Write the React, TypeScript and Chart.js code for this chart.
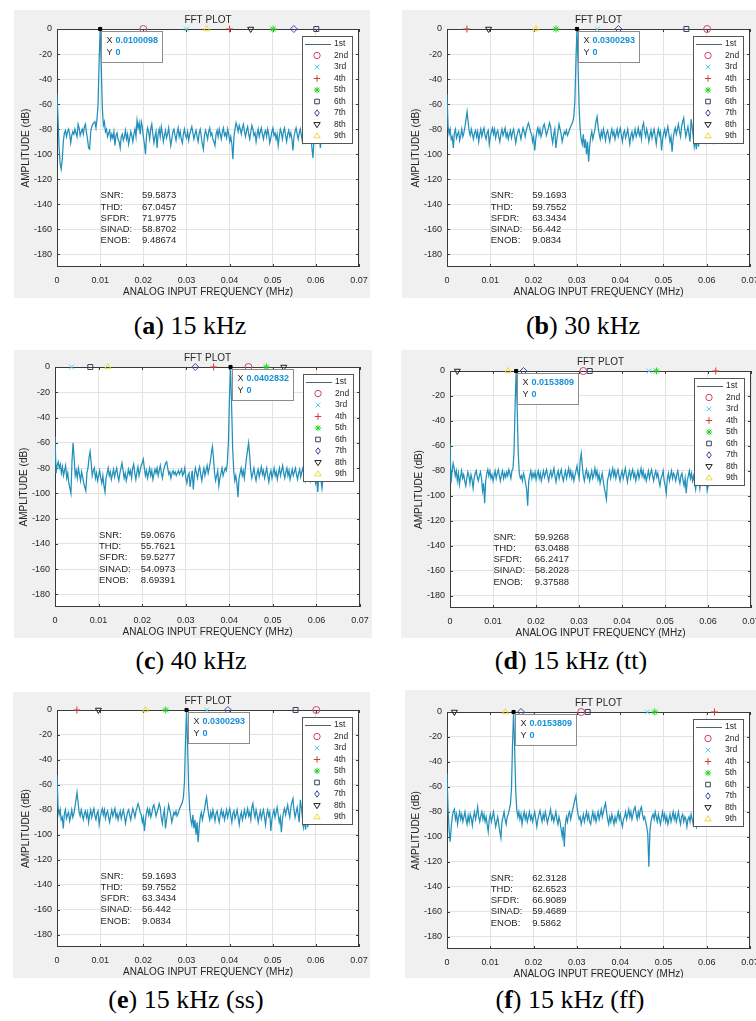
import React, { useEffect, useRef } from "react";
import { Chart, registerables } from "chart.js";

Chart.register(...registerables);

// ---------- data ----------
const BIN_MHZ = 0.000244140625; // FFT bin width (MHz)
const X_TICKS = [0, 0.01, 0.02, 0.03, 0.04, 0.05, 0.06, 0.07];
const Y_TICKS = [0, -20, -40, -60, -80, -100, -120, -140, -160, -180];
const SERIES_LABELS = ["1st", "2nd", "3rd", "4th", "5th", "6th", "7th", "8th", "9th"];
const STAT_LABELS = ["SNR:", "THD:", "SFDR:", "SINAD:", "ENOB:"];
const CAPTION_LETTERS = ["a", "b", "c", "d", "e", "f"];
const CAPTION_TEXTS = ["15 kHz", "30 kHz", "40 kHz", "15 kHz (tt)", "15 kHz (ss)", "15 kHz (ff)"];

const spectrumA = [
  -52, -72, -95, -108, -112, -104, -90, -83, -81, -86, -82, -80, -84, -91, -85, -82,
  -84, -80, -83, -86, -76, -79, -85, -82, -80, -84, -78, -76, -83, -88, -95, -96,
  -82, -78, -76, -75, -74, -79, -72, -60, -25, 0, -28, -62, -77, -74, -82, -80,
  -86, -83, -81, -88, -84, -87, -82, -93, -85, -83, -88, -90, -95, -86, -84, -89,
  -86, -81, -88, -84, -92, -87, -82, -85, -90, -84, -80, -86, -73, -79, -75, -84,
  -74, -78, -86, -92, -100, -85, -79, -82, -88, -80, -76, -84, -91, -86, -82, -95,
  -84, -80, -86, -78, -83, -90, -85, -81, -87, -84, -79, -86, -93, -88, -82, -80,
  -85, -89, -83, -79, -86, -82, -88, -91, -84, -80, -85, -87, -82, -89, -84, -81,
  -78, -83, -88, -84, -81, -86, -90, -83, -80, -86, -92, -96, -85, -81, -84, -88,
  -82, -79, -85, -83, -88, -90, -93, -84, -81, -86, -80, -84, -88, -82, -79, -85,
  -83, -87, -80, -84, -90, -86, -92, -104, -86, -80, -75, -78, -82, -77, -80, -84,
  -79, -76, -82, -86, -81, -78, -84, -88, -82, -77, -80, -85, -83, -90, -84, -80,
  -86, -82, -79, -84, -88, -83, -81, -86, -80, -84, -91, -87, -82, -79, -85, -83,
  -88, -84, -93, -86, -80, -83, -88, -82, -79, -85, -90, -84, -81, -86, -83, -88,
  -97, -86, -82, -79, -84, -88, -83, -80, -85, -90, -84, -81, -87, -83, -80, -88,
  -86, -82, -95, -103, -88, -84, -80, -86, -89, -84, -95, -88, -84, -82, -86, -90,
];

const spectrumB = [
  -52, -78, -84, -80, -88, -86, -95, -83, -80, -87, -84, -82, -89, -85, -80, -86,
  -83, -78, -72, -66, -74, -82, -85, -80, -84, -88, -83, -81, -86, -82, -90, -84,
  -80, -86, -82, -79, -85, -88, -83, -81, -92, -86, -82, -79, -84, -80, -87, -83,
  -81, -86, -90, -84, -80, -85, -82, -79, -86, -83, -88, -84, -81, -87, -83, -80,
  -85, -91, -86, -82, -80, -84, -88, -83, -79, -82, -86, -81, -78, -75, -78, -82,
  -84, -90, -86, -97, -88, -82, -79, -84, -80, -86, -83, -78, -76, -80, -85, -82,
  -79, -75, -78, -86, -91, -84, -80, -95, -88, -82, -76, -80, -84, -90, -86, -82,
  -84, -81, -85, -83, -80, -78, -76, -74, -70, -58, -25, 0, -28, -62, -80, -88,
  -92, -84, -95, -88, -100, -90, -106, -94, -86, -82, -88, -84, -80, -74, -70, -78,
  -84, -88, -82, -86, -80, -84, -89, -83, -81, -86, -90, -84, -80, -85, -82, -88,
  -84, -80, -86, -82, -79, -85, -90, -83, -81, -87, -84, -80, -86, -92, -85, -82,
  -88, -84, -80, -86, -83, -79, -85, -82, -88, -78, -75, -82, -86, -80, -84, -90,
  -85, -81, -87, -83, -80, -86, -92, -84, -80, -85, -82, -97, -88, -83, -80, -86,
  -82, -78, -84, -90, -86, -98, -88, -82, -79, -84, -80, -76, -82, -86, -78, -74,
  -71, -80, -86, -82, -78, -84, -90, -72, -78, -86, -94, -88, -96, -84, -94, -86,
  -82, -88, -84, -80, -86, -90, -84, -82, -88, -85, -81, -86, -90, -84, -82, -88,
];

const spectrumC = [
  -55, -84, -78, -75, -80, -77, -84, -79, -86, -82, -78, -88, -84, -92, -96, -100,
  -74, -60, -72, -86, -82, -88, -80, -85, -90, -83, -87, -92, -95, -98, -84, -80,
  -72, -67, -76, -86, -82, -80, -88, -84, -90, -86, -82, -88, -92, -86, -94, -99,
  -88, -84, -80, -86, -83, -89, -85, -81, -87, -83, -80, -86, -90, -84, -80, -76,
  -82, -88, -84, -90, -86, -81, -85, -82, -88, -80, -77, -84, -89, -83, -79, -86,
  -82, -78, -76, -73, -80, -86, -82, -88, -84, -80, -86, -82, -89, -85, -81, -84,
  -80, -86, -82, -78, -84, -88, -82, -79, -76, -75, -80, -85, -83, -88, -84, -82,
  -85, -83, -86, -84, -82, -85, -83, -81, -86, -84, -80, -88, -92, -86, -84, -95,
  -88, -82, -97, -86, -80, -84, -88, -82, -79, -85, -90, -84, -80, -86, -82, -78,
  -84, -80, -75, -68, -63, -72, -84, -90, -86, -82, -94, -88, -84, -80, -86, -83,
  -80, -82, -76, -60, -24, 0, -30, -64, -82, -90, -86, -92, -103, -88, -84, -80,
  -86, -82, -88, -80, -72, -66, -60, -70, -82, -88, -84, -80, -86, -90, -84, -81,
  -87, -83, -79, -85, -82, -88, -84, -80, -86, -91, -85, -82, -88, -84, -80, -86,
  -83, -89, -84, -80, -86, -82, -78, -84, -88, -83, -80, -86, -82, -89, -85, -81,
  -86, -83, -80, -85, -89, -84, -81, -87, -83, -80, -86, -90, -84, -88, -82, -86,
  -90, -84, -88, -82, -86, -92, -88, -99, -86, -82, -90, -96, -88, -84, -86, -90,
];

const spectrumD = [
  -58, -90, -80, -74, -78, -84, -80, -88, -82, -91, -85, -80, -86, -83, -88, -92,
  -86, -81, -84, -90, -83, -87, -94, -86, -82, -80, -85, -88, -84, -81, -86, -96,
  -90, -106, -88, -82, -79, -84, -80, -86, -83, -88, -84, -80, -86, -82, -79, -84,
  -88, -83, -80, -86, -82, -85, -81, -84, -79, -82, -86, -80, -78, -65, -28, 0,
  -30, -66, -82, -86, -84, -88, -82, -85, -90, -95, -108, -88, -84, -80, -86, -82,
  -85, -81, -87, -83, -80, -86, -82, -88, -84, -80, -85, -82, -79, -84, -88, -83,
  -80, -85, -82, -78, -84, -89, -83, -80, -86, -82, -79, -85, -88, -83, -80, -86,
  -82, -78, -84, -80, -86, -82, -88, -84, -80, -76, -82, -86, -72, -66, -76, -84,
  -88, -82, -79, -85, -82, -88, -84, -80, -86, -83, -78, -84, -80, -87, -83, -90,
  -86, -82, -88, -94, -98, -103, -88, -84, -80, -86, -82, -78, -84, -80, -86, -82,
  -79, -84, -88, -83, -80, -86, -82, -78, -84, -89, -83, -80, -86, -82, -79, -85,
  -82, -88, -84, -80, -86, -82, -78, -84, -80, -86, -83, -88, -84, -80, -86, -82,
  -79, -84, -88, -83, -80, -85, -82, -88, -92, -86, -84, -80, -88, -92, -98, -86,
  -82, -88, -84, -80, -86, -82, -84, -88, -83, -80, -86, -90, -84, -82, -88, -92,
  -86, -98, -88, -84, -80, -86, -82, -88, -84, -90, -95, -86, -82, -88, -94, -85,
  -84, -88, -82, -90, -86, -96, -92, -84, -88, -82, -86, -90, -84, -88, -86, -90,
];

const spectrumF = [
  -49, -78, -95, -104, -92, -84, -80, -78, -86, -82, -90, -84, -80, -86, -82, -88,
  -84, -80, -86, -90, -83, -88, -82, -85, -91, -84, -80, -86, -82, -76, -84, -88,
  -83, -80, -86, -82, -88, -84, -90, -96, -86, -82, -88, -84, -80, -86, -92, -88,
  -84, -90, -96, -101, -88, -84, -80, -86, -90, -84, -82, -78, -74, -62, -26, 0,
  -28, -62, -78, -84, -80, -86, -82, -90, -84, -80, -86, -82, -88, -84, -80, -86,
  -83, -88, -84, -80, -86, -92, -86, -82, -79, -84, -88, -82, -86, -80, -84, -89,
  -85, -82, -78, -86, -83, -88, -84, -80, -86, -90, -84, -88, -94, -100, -92, -108,
  -90, -84, -88, -82, -80, -86, -82, -78, -74, -70, -67, -76, -82, -86, -84, -90,
  -86, -82, -88, -84, -80, -86, -82, -88, -90, -84, -80, -86, -82, -88, -84, -80,
  -86, -82, -78, -84, -80, -76, -73, -80, -86, -90, -84, -88, -82, -86, -90, -84,
  -88, -84, -80, -86, -82, -88, -92, -86, -84, -80, -86, -82, -78, -84, -80, -86,
  -82, -78, -76, -82, -86, -80, -84, -78, -76, -82, -86, -84, -88, -92, -98, -124,
  -96, -88, -84, -82, -86, -80, -84, -88, -82, -86, -90, -84, -80, -86, -82, -88,
  -84, -90, -86, -82, -88, -84, -80, -86, -82, -88, -84, -80, -86, -90, -84, -82,
  -88, -84, -86, -92, -86, -84, -88, -82, -86, -90, -84, -88, -92, -86, -84, -90,
  -86, -88, -84, -90, -86, -82, -88, -84, -86, -90, -88, -84, -86, -90, -88, -92,
];

// harmonic marker frequencies (MHz), 2nd..9th
const harmonicsA = [0.0200, 0.0300, 0.0400, 0.0501, 0.0601, 0.0549, 0.0449, 0.0347];
const harmonicsB = [0.0601, 0.0347, 0.0046, 0.0252, 0.0553, 0.0396, 0.0096, 0.0205];
const harmonicsC = [0.0444, 0.0038, 0.0364, 0.0485, 0.0081, 0.0322, 0.0525, 0.0121];
const harmonicsD = [0.0310, 0.0463, 0.0618, 0.0480, 0.0325, 0.0171, 0.0017, 0.0135];

// data tip X values
const tipA = "0.0100098";
const tipB = "0.0300293";
const tipC = "0.0402832";
const tipD = "0.0153809";

const statsA = ["59.5873", "67.0457", "71.9775", "58.8702", "9.48674"];
const statsB = ["59.1693", "59.7552", "63.3434", "56.442", "9.0834"];
const statsC = ["59.0676", "55.7621", "59.5277", "54.0973", "8.69391"];
const statsD = ["59.9268", "63.0488", "66.2417", "58.2028", "9.37588"];
const statsF = ["62.3128", "62.6523", "66.9089", "59.4689", "9.5862"];

// ---------- styles / layout ----------
const FONT = '"Liberation Sans", Arial, Helvetica, sans-serif';
const TXT = "#262626";
const GRID = "#e3e3e3";
const TRACE = "#2190ba";
const TIP_BLUE = "#1590d8";
const MARKERS = [
  { style: "circle", color: "#d1426f", rot: 0 },
  { style: "crossRot", color: "#55d3ea", rot: 0 },
  { style: "cross", color: "#d33a3a", rot: 0 },
  { style: "star", color: "#1fd41f", rot: 0 },
  { style: "rect", color: "#3a3f5c", rot: 0 },
  { style: "rectRot", color: "#3b48a0", rot: 0 },
  { style: "triangle", color: "#1f1f1f", rot: 180 },
  { style: "triangle", color: "#e8dc3a", rot: 0 },
];
const STAT_X = [0.0101, 0.0197];
const STAT_Y = -133;

// [left, top, right, bottom] page pixels
const LAYOUT = [
  { bg: [14, 10, 370, 298], plot: [57, 29, 359, 267], cap: [190, 326] },
  { bg: [402, 10, 756, 298], plot: [447, 29, 750, 267], cap: [583, 326] },
  { bg: [14, 350, 372, 638], plot: [55, 367, 360, 607], cap: [191, 661] },
  { bg: [401, 350, 756, 638], plot: [450, 371, 751, 608], cap: [571, 661] },
  { bg: [13, 692, 370, 978], plot: [57, 710, 359, 947], cap: [186, 1000] },
  { bg: [405, 690, 756, 978], plot: [447, 712, 750, 949], cap: [570, 1000] },
];

const PANELS = [
  { spectrum: spectrumA, harmonics: harmonicsA, tip: tipA, stats: statsA },
  { spectrum: spectrumB, harmonics: harmonicsB, tip: tipB, stats: statsB },
  { spectrum: spectrumC, harmonics: harmonicsC, tip: tipC, stats: statsC },
  { spectrum: spectrumD, harmonics: harmonicsD, tip: tipD, stats: statsD },
  { spectrum: spectrumB, harmonics: harmonicsB, tip: tipB, stats: statsB },
  { spectrum: spectrumF, harmonics: harmonicsD, tip: tipD, stats: statsF },
];

function drawMark(ctx: CanvasRenderingContext2D, style: string, x: number, y: number, r: number, rot: number, color: string) {
  ctx.save();
  ctx.strokeStyle = color;
  ctx.lineWidth = 1;
  ctx.beginPath();
  const d = r * 0.72;
  if (style === "circle") {
    ctx.arc(x, y, r, 0, Math.PI * 2);
  } else if (style === "crossRot" || style === "star") {
    ctx.moveTo(x - d, y - d); ctx.lineTo(x + d, y + d);
    ctx.moveTo(x - d, y + d); ctx.lineTo(x + d, y - d);
    if (style === "star") { ctx.moveTo(x - r, y); ctx.lineTo(x + r, y); ctx.moveTo(x, y - r); ctx.lineTo(x, y + r); }
  } else if (style === "cross") {
    ctx.moveTo(x - r, y); ctx.lineTo(x + r, y); ctx.moveTo(x, y - r); ctx.lineTo(x, y + r);
  } else if (style === "rect") {
    ctx.rect(x - d, y - d, 2 * d, 2 * d);
  } else if (style === "rectRot") {
    ctx.moveTo(x, y - r); ctx.lineTo(x + d, y); ctx.lineTo(x, y + r); ctx.lineTo(x - d, y); ctx.closePath();
  } else if (style === "triangle") {
    if (rot === 180) {
      ctx.moveTo(x - r, y - r * 0.6); ctx.lineTo(x + r, y - r * 0.6); ctx.lineTo(x, y + r); ctx.closePath();
    } else {
      ctx.moveTo(x - r, y + r * 0.6); ctx.lineTo(x + r, y + r * 0.6); ctx.lineTo(x, y - r); ctx.closePath();
    }
  }
  ctx.stroke();
  ctx.restore();
}

function FftPanel({ idx }: { idx: number }) {
  const ref = useRef<HTMLCanvasElement>(null);
  const lay = LAYOUT[idx];
  const p = PANELS[idx];
  const [bl, bt, br, bb] = lay.bg;
  const [pl, pt, pr, pb] = lay.plot;

  useEffect(() => {
    const canvas = ref.current;
    if (!canvas) return;
    const fund = Number(p.tip);

    const deco = {
      id: "fftDeco",
      beforeDraw(chart: any) {
        const { ctx, chartArea: a } = chart;
        ctx.save();
        ctx.fillStyle = "#ffffff";
        ctx.fillRect(a.left, a.top, a.right - a.left, a.bottom - a.top);
        ctx.restore();
      },
      beforeDatasetsDraw(chart: any) {
        const { ctx, chartArea: a, scales } = chart;
        ctx.save();
        ctx.strokeStyle = "#3a3a3a";
        ctx.lineWidth = 1;
        ctx.strokeRect(Math.round(a.left) + 0.5, Math.round(a.top) + 0.5, Math.round(a.right - a.left) - 1, Math.round(a.bottom - a.top) - 1);
        ctx.beginPath();
        X_TICKS.forEach((v) => {
          const x = Math.round(scales.x.getPixelForValue(v)) + 0.5;
          ctx.moveTo(x, a.bottom); ctx.lineTo(x, a.bottom - 3);
          ctx.moveTo(x, a.top); ctx.lineTo(x, a.top + 3);
        });
        Y_TICKS.forEach((v) => {
          const y = Math.round(scales.y.getPixelForValue(v)) + 0.5;
          ctx.moveTo(a.left, y); ctx.lineTo(a.left + 3, y);
          ctx.moveTo(a.right, y); ctx.lineTo(a.right - 3, y);
        });
        ctx.stroke();
        ctx.restore();
      },
      afterDraw(chart: any) {
        const { ctx, chartArea: a, scales } = chart;
        const sx = scales.x, sy = scales.y;
        ctx.save();
        ctx.fillStyle = TXT;
        ctx.textBaseline = "middle";
        ctx.textAlign = "center";
        ctx.font = `10px ${FONT}`;
        const cx = (a.left + a.right) / 2;
        ctx.fillText("FFT PLOT", cx, a.top - 9);
        ctx.fillText("ANALOG INPUT FREQUENCY (MHz)", cx, a.bottom + 25);
        ctx.save();
        ctx.translate(a.left - 31, (a.top + a.bottom) / 2);
        ctx.rotate(-Math.PI / 2);
        ctx.fillText("AMPLITUDE (dB)", 0, 0);
        ctx.restore();

        // statistics text
        ctx.textAlign = "left";
        ctx.font = `9.5px ${FONT}`;
        const lx = sx.getPixelForValue(STAT_X[0]);
        const vx = sx.getPixelForValue(STAT_X[1]);
        const y0 = sy.getPixelForValue(STAT_Y);
        STAT_LABELS.forEach((lab, i) => {
          ctx.fillText(lab, lx, y0 + i * 11.3);
          ctx.fillText(p.stats[i], vx, y0 + i * 11.3);
        });

        // data tip
        const px = sx.getPixelForValue(fund);
        const tl = Math.round(px) + 1.5, tt = Math.round(a.top) + 2.5, tw = 61, th = 31;
        ctx.fillStyle = "#ffffff";
        ctx.fillRect(tl, tt, tw, th);
        ctx.strokeStyle = "#8c8c8c";
        ctx.lineWidth = 1;
        ctx.strokeRect(tl, tt, tw, th);
        ctx.fillStyle = TXT;
        ctx.font = `9px ${FONT}`;
        ctx.fillText("X", tl + 5, tt + 9.5);
        ctx.fillText("Y", tl + 5, tt + 21);
        ctx.fillStyle = TIP_BLUE;
        ctx.font = `bold 9px ${FONT}`;
        ctx.fillText(p.tip, tl + 14, tt + 9.5);
        ctx.fillText("0", tl + 14, tt + 21);

        // legend
        const lw = 50, lh = 107;
        const lr = Math.round(a.right) - 7, lt = Math.round(a.top) + 7;
        const ll = lr - lw;
        ctx.fillStyle = "#ffffff";
        ctx.fillRect(ll + 0.5, lt + 0.5, lw, lh);
        ctx.strokeStyle = "#555555";
        ctx.strokeRect(ll + 0.5, lt + 0.5, lw, lh);
        ctx.font = `8.5px ${FONT}`;
        SERIES_LABELS.forEach((lab, i) => {
          const ry = lt + 8 + i * 11.5;
          if (i === 0) {
            ctx.strokeStyle = "#4a6272";
            ctx.beginPath();
            ctx.moveTo(ll + 3, ry + 0.5);
            ctx.lineTo(ll + 29, ry + 0.5);
            ctx.stroke();
          } else {
            const m = MARKERS[i - 1];
            drawMark(ctx, m.style, ll + 15, ry, 3.2, m.rot, m.color);
          }
          ctx.fillStyle = TXT;
          ctx.fillText(lab, ll + 32, ry);
        });
        ctx.restore();
      },
    };

    const harmonicSets = p.harmonics.map((h, i) => ({
      label: SERIES_LABELS[i + 1],
      data: [{ x: h, y: 0 }],
      showLine: false,
      pointStyle: MARKERS[i].style,
      pointRotation: MARKERS[i].rot,
      pointRadius: 3.5,
      pointBorderWidth: 1,
      pointBorderColor: MARKERS[i].color,
      pointBackgroundColor: "rgba(0,0,0,0)",
      borderColor: MARKERS[i].color,
      clip: false,
    }));

    const chart = new Chart(canvas, {
      type: "line",
      data: {
        datasets: [
          {
            label: "tip",
            data: [{ x: fund, y: 0 }],
            showLine: false,
            pointStyle: "rect",
            pointRadius: 2.2,
            pointBackgroundColor: "#000",
            pointBorderColor: "#000",
            clip: false,
          } as any,
          ...harmonicSets,
          {
            label: SERIES_LABELS[0],
            data: p.spectrum.map((v, i) => ({ x: i * BIN_MHZ, y: v })),
            borderColor: TRACE,
            borderWidth: 1.25,
            pointRadius: 0,
            tension: 0,
          },
        ],
      },
      options: {
        animation: false,
        responsive: false,
        devicePixelRatio: 1,
        events: [],
        layout: { padding: { left: 0, top: pt - bt, right: br - pr, bottom: 0 } },
        plugins: { legend: { display: false }, tooltip: { enabled: false }, title: { display: false } },
        scales: {
          x: {
            type: "linear",
            min: 0,
            max: 0.07,
            afterBuildTicks: (s: any) => { s.ticks = X_TICKS.map((v) => ({ value: v })); },
            afterFit: (s: any) => { s.height = bb - pb; s.paddingLeft = 0; s.paddingRight = 0; },
            grid: { color: GRID, drawTicks: false, lineWidth: 1 },
            border: { display: false },
            ticks: {
              padding: 8,
              color: TXT,
              maxRotation: 0,
              autoSkip: false,
              font: { family: FONT, size: 9 },
              callback: (v: any) => (Number(v) === 0 ? "0" : Number(v).toFixed(2)),
            },
          },
          y: {
            type: "linear",
            min: -190,
            max: 0,
            afterBuildTicks: (s: any) => { s.ticks = Y_TICKS.map((v) => ({ value: v })); },
            afterFit: (s: any) => { s.width = pl - bl; s.paddingTop = 0; s.paddingBottom = 0; },
            grid: { color: GRID, drawTicks: false, lineWidth: 1 },
            border: { display: false },
            ticks: {
              padding: 5,
              color: TXT,
              font: { family: FONT, size: 9 },
              callback: (v: any) => String(v),
            },
          },
        },
      } as any,
      plugins: [deco],
    });
    return () => chart.destroy();
  }, [idx]);

  return (
    <canvas
      ref={ref}
      width={br - bl}
      height={bb - bt}
      style={{ position: "absolute", left: bl, top: bt, width: br - bl, height: bb - bt, background: "#f0f0f0" }}
    />
  );
}

export default function App() {
  return (
    <div style={{ position: "absolute", left: 0, top: 0, width: 756, height: 1021, overflow: "hidden", background: "#ffffff" }}>
      {LAYOUT.map((_, i) => (
        <FftPanel key={i} idx={i} />
      ))}
      {LAYOUT.map((l, i) => (
        <div
          key={"cap" + i}
          style={{
            position: "absolute",
            left: l.cap[0] - 150,
            width: 300,
            top: l.cap[1] - 15,
            height: 30,
            lineHeight: "30px",
            textAlign: "center",
            fontFamily: '"Liberation Serif", "Times New Roman", serif',
            fontSize: 26,
            color: "#000",
            whiteSpace: "nowrap",
          }}
        >
          (<b>{CAPTION_LETTERS[i]}</b>) {CAPTION_TEXTS[i]}
        </div>
      ))}
    </div>
  );
}
